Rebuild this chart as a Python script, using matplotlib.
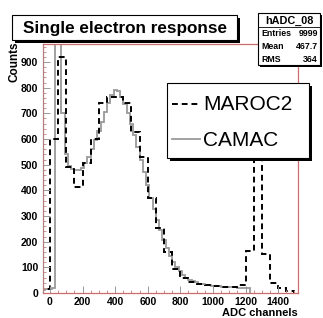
import numpy as np
import matplotlib
matplotlib.use("Agg")
from matplotlib import pyplot as plt
from matplotlib.patches import Rectangle
from matplotlib.lines import Line2D
from matplotlib.ticker import MultipleLocator

# MAROC2 histogram, 50-channel bins starting at -50
maroc_edges = np.arange(-50, 1501, 50)
maroc_counts = [15, 600, 920, 490, 413, 505, 600, 740, 762, 762,
                740, 628, 531, 370, 253, 160, 93, 58, 43, 35,
                30, 26, 24, 25, 30, 165, 750, 152, 40, 20, 8]

# CAMAC histogram, 20-channel bins starting at -50
camac_edges = np.arange(-50, 1231, 20)
camac_counts = [12, 14, 15, 18, 3000, 3000, 700, 540, 495, 485,
                478, 480, 488, 505, 530, 560, 595, 630, 668, 705,
                740, 770, 790, 785, 765, 735, 700, 660, 615, 568,
                520, 470, 420, 372, 326, 285, 245, 208, 175, 146,
                120, 100, 84, 70, 60, 52, 46, 41, 37, 34,
                32, 30, 28, 27, 26, 25, 24, 23, 22, 22,
                21, 21, 20, 20]

title = "Single electron response"
hist_name = "hADC_08"
stats = [("Entries", "9999"), ("Mean", "467.7"), ("RMS", "364")]
series_names = ["MAROC2", "CAMAC"]

W, H = 323, 318
plt.rcParams["font.family"] = ["Liberation Sans", "DejaVu Sans"]
fig = plt.figure(figsize=(W / 100, H / 100), dpi=100)


def fx(x):
    return x / W


def fy(y):
    return 1 - y / H


frame = "#cc6b6b"
ax = fig.add_axes([fx(42.5), fy(293), (297.5 - 42.5) / W, (293 - 44) / H])
ax.stairs(camac_counts, camac_edges, color="#9a9a9a", lw=1.3, baseline=0)
ax.stairs(maroc_counts, maroc_edges, color="black", lw=1.4,
          linestyle=(0, (3, 2)), baseline=0)
ax.set_xlim(-46, 1519)
ax.set_ylim(0, 970)
for s in ax.spines.values():
    s.set_color(frame)
    s.set_linewidth(0.9)
ax.spines["left"].set_color("#b08080")

ax.xaxis.set_major_locator(MultipleLocator(200))
ax.xaxis.set_minor_locator(MultipleLocator(50))
ax.yaxis.set_major_locator(MultipleLocator(100))
ax.yaxis.set_minor_locator(MultipleLocator(20))
ax.tick_params(which="both", direction="in", colors="#999999", width=0.7)
ax.tick_params(which="major", length=5, labelsize=7.5, pad=3)
ax.tick_params(which="minor", length=2.5, color="#d09090")
ax.tick_params(labelcolor="black")
for lab in ax.get_xticklabels() + ax.get_yticklabels():
    lab.set_fontweight("bold")

fig.text(fx(15), fy(42), "Counts", rotation=90, ha="center", va="top",
         fontsize=8.5, fontweight="bold")
fig.text(fx(298), fy(313), "ADC channels", ha="right", va="center",
         fontsize=8, fontweight="bold")


def pave(x0, y0, x1, y1, sh=2.5):
    fig.add_artist(Rectangle((fx(x0 + sh), fy(y1 + sh)), (x1 - x0) / W,
                             (y1 - y0) / H, transform=fig.transFigure,
                             facecolor="black", edgecolor="black", lw=0))
    fig.add_artist(Rectangle((fx(x0), fy(y1)), (x1 - x0) / W, (y1 - y0) / H,
                             transform=fig.transFigure, facecolor="white",
                             edgecolor="black", lw=0.8))


# title box
pave(12, 15, 237, 40)
fig.text(fx(125), fy(28), title, ha="center", va="center",
         fontsize=12.3, fontweight="bold")

# stats box
pave(258, 13, 320, 65, sh=2)
fig.text(fx(289), fy(20.5), hist_name, ha="center", va="center",
         fontsize=7.8, fontweight="bold")
fig.add_artist(Line2D([fx(258), fx(320)], [fy(27), fy(27)],
                      transform=fig.transFigure, color="black", lw=0.6))
for i, (k, v) in enumerate(stats):
    yy = 34 + i * 12.5
    fig.text(fx(261), fy(yy), k, ha="left", va="center",
             fontsize=6.3, fontweight="bold")
    fig.text(fx(318), fy(yy), v, ha="right", va="center",
             fontsize=6.3, fontweight="bold")

# legend box
pave(167, 83, 309, 158, sh=3)
fig.add_artist(Line2D([fx(172), fx(200)], [fy(104), fy(104)],
                      transform=fig.transFigure, color="black", lw=1.4,
                      linestyle=(0, (3, 2))))
fig.add_artist(Line2D([fx(172), fx(200)], [fy(139), fy(139)],
                      transform=fig.transFigure, color="#9a9a9a", lw=1.3))
fig.text(fx(203), fy(105), series_names[0], ha="left", va="center",
         fontsize=15)
fig.text(fx(203), fy(140), series_names[1], ha="left", va="center",
         fontsize=15)

fig.savefig("out.png", dpi=100)
